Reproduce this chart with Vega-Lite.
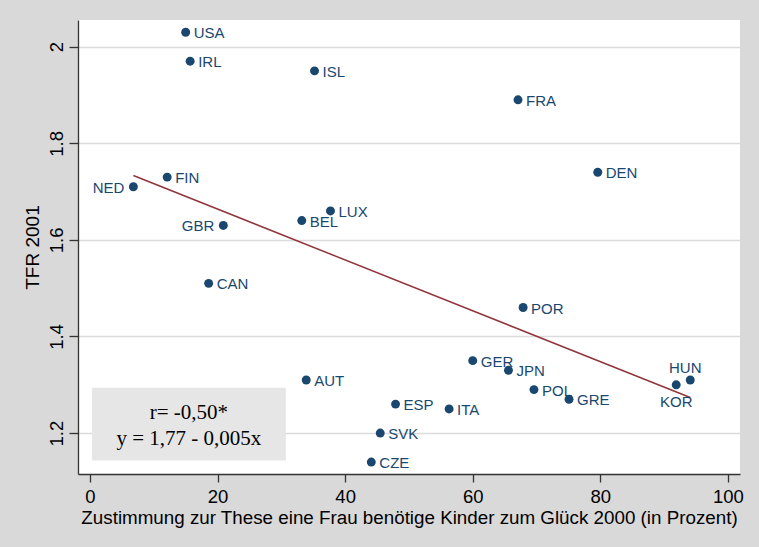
{
  "$schema": "https://vega.github.io/schema/vega-lite/v6.json",
  "autosize": {"type": "none"},
  "width": 662,
  "height": 454,
  "padding": {"left": 78, "top": 20, "right": 19, "bottom": 73},
  "background": "#d9d9d9",
  "config": {
    "view": {"stroke": null, "fill": "white"},
    "font": "Liberation Sans",
    "axis": {
      "labelFont": "Liberation Sans",
      "titleFont": "Liberation Sans",
      "labelColor": "#000000",
      "titleColor": "#000000",
      "titleFontWeight": "normal",
      "domainColor": "#333333",
      "tickColor": "#333333",
      "domainWidth": 1.3,
      "tickWidth": 1.3
    }
  },
  "datasets": {
    "pts": [
      {"land": "USA", "zust": 15.0, "tfr": 2.03},
      {"land": "IRL", "zust": 15.7, "tfr": 1.97},
      {"land": "ISL", "zust": 35.2, "tfr": 1.95},
      {"land": "NED", "zust": 6.8, "tfr": 1.71},
      {"land": "FIN", "zust": 12.1, "tfr": 1.73},
      {"land": "GBR", "zust": 20.9, "tfr": 1.63},
      {"land": "BEL", "zust": 33.2, "tfr": 1.64},
      {"land": "LUX", "zust": 37.7, "tfr": 1.66},
      {"land": "FRA", "zust": 67.1, "tfr": 1.89},
      {"land": "DEN", "zust": 79.6, "tfr": 1.74},
      {"land": "CAN", "zust": 18.6, "tfr": 1.51},
      {"land": "AUT", "zust": 33.9, "tfr": 1.31},
      {"land": "POR", "zust": 67.9, "tfr": 1.46},
      {"land": "GER", "zust": 60.0, "tfr": 1.35},
      {"land": "JPN", "zust": 65.6, "tfr": 1.33},
      {"land": "POL", "zust": 69.6, "tfr": 1.29},
      {"land": "GRE", "zust": 75.1, "tfr": 1.27},
      {"land": "KOR", "zust": 91.9, "tfr": 1.30},
      {"land": "HUN", "zust": 94.1, "tfr": 1.31},
      {"land": "ESP", "zust": 47.9, "tfr": 1.26},
      {"land": "ITA", "zust": 56.3, "tfr": 1.25},
      {"land": "SVK", "zust": 45.5, "tfr": 1.20},
      {"land": "CZE", "zust": 44.1, "tfr": 1.14}
    ],
    "box": [{"x1": 0.3, "x2": 30.7, "y1": 1.143, "y2": 1.294}],
    "note": [
      {"text": "r= -0,50*", "x": 15.5, "y": 1.2422},
      {"text": "y = 1,77 - 0,005x", "x": 15.5, "y": 1.1871}
    ]
  },
  "layer": [
    {
      "data": {"name": "pts"},
      "mark": {"type": "circle", "opacity": 1, "size": 80, "color": "#1a476f"},
      "encoding": {
        "x": {
          "field": "zust", "type": "quantitative",
          "scale": {"domain": [-1.88, 101.9], "nice": false, "zero": false},
          "axis": {
            "values": [0, 20, 40, 60, 80, 100], "grid": false, "tickSize": 8,
            "labelFontSize": 18.5, "labelPadding": 5, "titleFontSize": 18.8, "titlePadding": 3,
            "title": "Zustimmung zur These eine Frau benötige Kinder zum Glück 2000 (in Prozent)"
          }
        },
        "y": {
          "field": "tfr", "type": "quantitative",
          "scale": {"domain": [1.1153, 2.0553], "nice": false, "zero": false},
          "axis": {
            "values": [1.2, 1.4, 1.6, 1.8, 2], "format": "~g", "grid": true,
            "gridColor": "#dcdcdc", "gridWidth": 1.5, "tickSize": 9,
            "labelAngle": -90, "labelAlign": "center", "labelBaseline": "bottom",
            "labelFontSize": 18.5, "labelPadding": 3,
            "titleFontSize": 19, "titlePadding": 5, "title": "TFR 2001"
          }
        }
      }
    },
    {
      "data": {"name": "pts"},
      "transform": [{"regression": "tfr", "on": "zust"}],
      "mark": {"type": "line", "color": "#90353b", "strokeWidth": 1.5},
      "encoding": {
        "x": {"field": "zust", "type": "quantitative"},
        "y": {"field": "tfr", "type": "quantitative"}
      }
    },
    {
      "data": {"name": "pts"},
      "transform": [{"filter": "indexof(['NED','GBR','HUN','KOR'], datum.land) < 0"}],
      "mark": {"type": "text", "align": "left", "baseline": "middle", "dx": 8, "dy": 1, "fontSize": 15, "color": "#1a476f"},
      "encoding": {
        "x": {"field": "zust", "type": "quantitative"},
        "y": {"field": "tfr", "type": "quantitative"},
        "text": {"field": "land"}
      }
    },
    {
      "data": {"name": "pts"},
      "transform": [{"filter": "indexof(['NED','GBR'], datum.land) >= 0"}],
      "mark": {"type": "text", "align": "right", "baseline": "middle", "dx": -9, "dy": 1, "fontSize": 15, "color": "#1a476f"},
      "encoding": {
        "x": {"field": "zust", "type": "quantitative"},
        "y": {"field": "tfr", "type": "quantitative"},
        "text": {"field": "land"}
      }
    },
    {
      "data": {"name": "pts"},
      "transform": [{"filter": "datum.land == 'HUN'"}],
      "mark": {"type": "text", "align": "center", "baseline": "middle", "dx": -5, "dy": -12, "fontSize": 15, "color": "#1a476f"},
      "encoding": {
        "x": {"field": "zust", "type": "quantitative"},
        "y": {"field": "tfr", "type": "quantitative"},
        "text": {"field": "land"}
      }
    },
    {
      "data": {"name": "pts"},
      "transform": [{"filter": "datum.land == 'KOR'"}],
      "mark": {"type": "text", "align": "center", "baseline": "middle", "dx": 0, "dy": 17, "fontSize": 15, "color": "#1a476f"},
      "encoding": {
        "x": {"field": "zust", "type": "quantitative"},
        "y": {"field": "tfr", "type": "quantitative"},
        "text": {"field": "land"}
      }
    },
    {
      "data": {"name": "box"},
      "mark": {"type": "rect", "color": "#e6e6e6"},
      "encoding": {
        "x": {"field": "x1", "type": "quantitative"},
        "x2": {"field": "x2"},
        "y": {"field": "y1", "type": "quantitative"},
        "y2": {"field": "y2"}
      }
    },
    {
      "data": {"name": "note"},
      "mark": {"type": "text", "font": "Liberation Serif", "fontSize": 21, "align": "center", "baseline": "middle", "color": "#000000"},
      "encoding": {
        "x": {"field": "x", "type": "quantitative"},
        "y": {"field": "y", "type": "quantitative"},
        "text": {"field": "text"}
      }
    }
  ]
}
